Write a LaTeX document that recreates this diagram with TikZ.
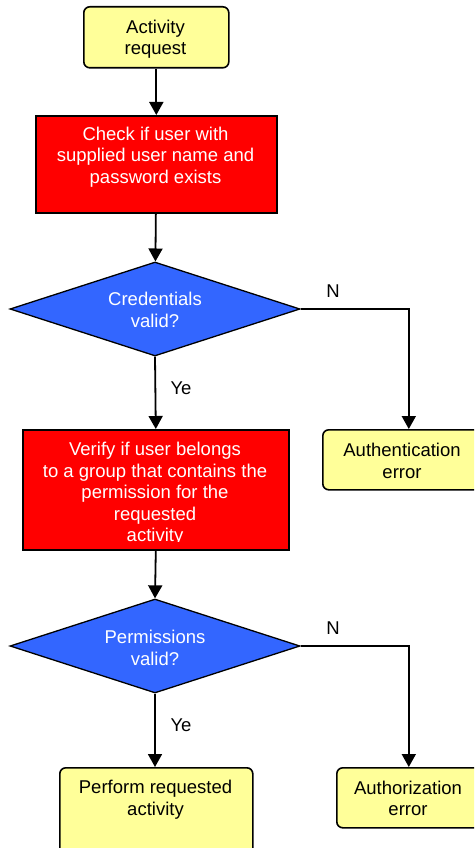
\documentclass[tikz,border=0pt]{standalone}
\usepackage{fontspec}
\setmainfont{Liberation Sans}
\usetikzlibrary{arrows.meta,shapes.geometric}
\definecolor{termfill}{HTML}{FFFF99}
\definecolor{procfill}{HTML}{FF0000}
\definecolor{testfill}{HTML}{3366FF}
\begin{document}
\begin{tikzpicture}[x=1pt,y=-1pt,
  every node/.style={font=\fontsize{18.5}{21.5}\selectfont, align=center, inner sep=0pt},
  term/.style={draw=black, line width=1.6pt, fill=termfill, rounded corners=6pt, anchor=north west},
  proc/.style={draw=black, line width=1.6pt, fill=procfill, anchor=north west},
  test/.style={draw=black, line width=1.3pt, fill=testfill, diamond, aspect=3.085,
    minimum width=290pt, minimum height=94pt, text=white},
  flow/.style={line width=1.8pt, -{Triangle[width=14pt,length=13pt]}},
  lbl/.style={text=black}
]
\useasboundingbox (0,0) rectangle (474,848);
\clip (0,0) rectangle (474,848);

% main column
\node[term, minimum width=145pt, minimum height=61pt] (req) at (83,6) {};
\node (reqtxt) at (155.5,39) {Activity\\request};
\node[proc, minimum width=241pt, minimum height=97pt] (chk) at (35,115) {};
\node[text=white] (chktxt) at (155.5,157) {Check if user with\\supplied user name and\\password exists};
\node[test] (cred) at (155,309) {};
\node[text=white] (credtxt) at (155,310) {Credentials\\valid?};
\node[proc, minimum width=266pt, minimum height=120pt] (grp) at (22,429) {};
\begin{scope}
  \clip (24,431) rectangle (286,541);
  \node[text=white] (grptxt) at (155,494) {Verify if user belongs\\to a group that contains the\\permission for the\\requested\\activity};
\end{scope}
\node[test] (perm) at (155,646) {};
\node[text=white] (permtxt) at (155,648) {Permissions\\valid?};
\node[term, minimum width=193pt, minimum height=110pt] (run) at (59,767) {};
\node (runtxt) at (155.5,799.5) {Perform requested\\activity};

% error outcomes
\node[term, minimum width=172pt, minimum height=60pt] (autherr) at (322,429) {};
\node (autherrtxt) at (402,461) {Authentication\\error};
\node[term, minimum width=144pt, minimum height=60pt] (authzerr) at (336,767) {};
\node (authzerrtxt) at (408,798.5) {Authorization\\error};

% connectors
\draw[flow] (req) -- (chk);
\draw[flow] (chk) -- (cred);
\draw[flow] (cred.south) -- (grp.north);
\draw[flow] (cred.east) -| (autherr.north);
\draw[flow] (grp.south) -- (perm.north);
\draw[flow] (perm.south) -- (run.north -| perm.south);
\draw[flow] (perm.east) -| (authzerr.north);

% branch labels
\node[lbl] (yes1) at (181,388) {Ye};
\node[lbl] (no1) at (333,291) {N};
\node[lbl] (yes2) at (181,725) {Ye};
\node[lbl] (no2) at (333,628) {N};
\end{tikzpicture}
\end{document}
